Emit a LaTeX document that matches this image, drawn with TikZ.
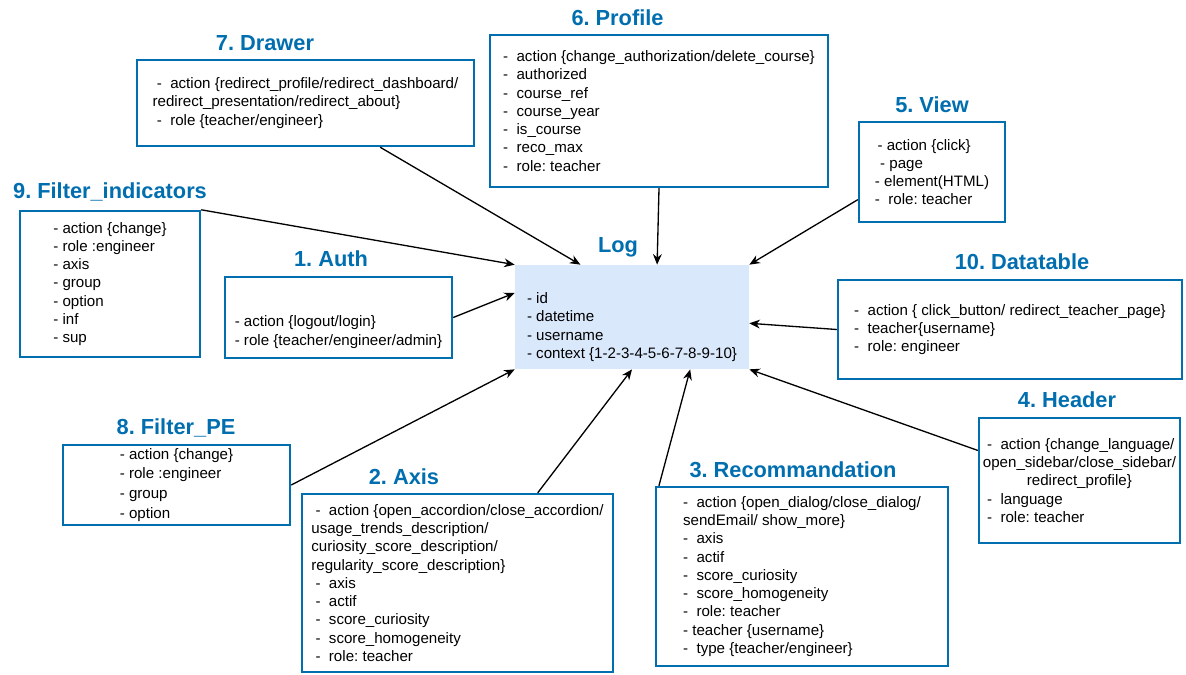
\documentclass[tikz,border=0pt]{standalone}
\usepackage{fontspec}
\setmainfont{Liberation Sans}
\usepackage{tikz}
\usetikzlibrary{arrows.meta,positioning,calc}
\frenchspacing
\definecolor{lgBlue}{HTML}{006EAF}
\definecolor{lgFill}{HTML}{DAE8FC}
\definecolor{lgInk}{HTML}{000000}
\tikzset{
  % Context box (white, blue border)
  ctxbox/.style={rectangle,draw=lgBlue,line width=1.4pt,fill=white,
    align=left,inner sep=2pt,
    font=\fontsize{8.6}{10.4}\selectfont,text=lgInk},
  % Log table (light blue, no border)
  logbox/.style={rectangle,fill=lgFill,align=left,inner sep=2pt,
    font=\fontsize{8.6}{10.4}\selectfont,text=lgInk},
  % Titles above the boxes
  ttl/.style={font=\fontsize{12.4}{14}\selectfont\bfseries,
    text=lgBlue,inner sep=0pt},
  % Arrows
  arr/.style={-{Stealth[length=6pt,width=5pt]},line width=0.75pt,color=lgInk},
}

\begin{document}
\begin{tikzpicture}[x=0.02cm,y=-0.02cm]
  \useasboundingbox (0,0) rectangle (1186,674);

  % central table
  \node[logbox,minimum width=4.68cm,minimum height=2.08cm] (log) at (632,317)
    {\strut\\- id\\- datetime\\- username\\- context \{1-2-3-4-5-6-7-8-9-10\}};
  \node[ttl] (logT) at (618,247) {Log};

  % contexts
  \node[ctxbox,minimum width=6.74cm,minimum height=1.72cm] (drawer) at (305.5,103)
    {~-~~action \{redirect\_profile/redirect\_dashboard/\\
     redirect\_presentation/redirect\_about\}\\
     ~-~~role \{teacher/engineer\}};
  \node[ttl] (drawerT) at (265,43) {7. Drawer};

  \node[ctxbox,minimum width=6.76cm,minimum height=3.04cm] (profile) at (659,111)
    {-~~action \{change\_authorization/delete\_course\}\\
     -~~authorized\\
     -~~course\_ref\\
     -~~course\_year\\
     -~~is\_course\\
     -~~reco\_max\\
     -~~role: teacher};
  \node[ttl] (profileT) at (617.5,18) {6. Profile};

  \node[ctxbox,minimum width=2.92cm,minimum height=2.0cm] (view) at (932,172)
    {\hspace*{1.5pt}- action \{click\}\\
     \hspace*{3pt}- page\\
     - element(HTML)\\
     -~~role: teacher};
  \node[ttl] (viewT) at (932,105) {5. View};

  \node[ctxbox,minimum width=3.6cm,minimum height=2.92cm] (filterind) at (110,284)
    {- action \{change\}\\
     - role :engineer\\
     - axis\\
     - group\\
     - option\\
     - inf\\
     - sup};
  \node[ttl] (filterindT) at (110,192) {9. Filter\_indicators};

  \node[ctxbox,minimum width=4.54cm,minimum height=1.62cm] (auth) at (338.5,317.5)
    {\strut\\[5pt]
     - action \{logout/login\}\\
     - role \{teacher/engineer/admin\}};
  \node[ttl] (authT) at (331,259) {1. Auth};

  \node[ctxbox,minimum width=6.88cm,minimum height=1.98cm] (datatable) at (1010,329.5)
    {-~~action \{ click\_button/ redirect\_teacher\_page\}\\
     -~~teacher\{username\}\\
     -~~role: engineer};
  \node[ttl] (datatableT) at (1022,262) {10. Datatable};

  \node[ctxbox,minimum width=4.02cm,minimum height=2.5cm] (header) at (1079.5,480.5)
    {~-~~action \{change\_language/\\
     open\_sidebar/close\_sidebar/\\
     \hspace*{25pt}redirect\_profile\}\\
     ~-~~language\\
     ~-~~role: teacher};
  \node[ttl] (headerT) at (1067,400) {4. Header};

  \node[ctxbox,minimum width=4.54cm,minimum height=1.6cm] (filterpe) at (176.5,485)
    {- action \{change\}\\
     - role :engineer\\[1pt]
     - group\\[1pt]
     - option};
  \node[ttl] (filterpeT) at (176,428) {8. Filter\_PE};

  \node[ctxbox,minimum width=6.22cm,minimum height=3.56cm] (axis) at (457.5,583)
    {~-~~action \{open\_accordion/close\_accordion/\\
     usage\_trends\_description/\\
     curiosity\_score\_description/\\
     regularity\_score\_description\}\\
     ~-~~axis\\
     ~-~~actif\\
     ~-~~score\_curiosity\\
     ~-~~score\_homogeneity\\
     ~-~~role: teacher};
  \node[ttl] (axisT) at (404,477) {2. Axis};

  \node[ctxbox,minimum width=5.84cm,minimum height=3.58cm] (reco) at (802,576.5)
    {-~~action \{open\_dialog/close\_dialog/\\
     sendEmail/ show\_more\}\\
     -~~axis\\
     -~~actif\\
     -~~score\_curiosity\\
     -~~score\_homogeneity\\
     -~~role: teacher\\
     - teacher \{username\}\\
     -~~type \{teacher/engineer\}};
  \node[ttl] (recoT) at (793,470) {3. Recommandation};

  % links to the log
  \draw[arr] ($(drawer.south west)!0.72!(drawer.south east)$)
    -- ($(log.north west)!0.28!(log.north east)$);
  \draw[arr] (profile.south) -- ($(log.north west)!0.607!(log.north east)$);
  \draw[arr] ($(view.north west)!0.77!(view.south west)$) -- (log.north east);
  \draw[arr] (filterind.north east) -- (log.north west);
  \draw[arr] (auth.east) -- ($(log.north west)!0.27!(log.south west)$);
  \draw[arr] (datatable.west) -- ($(log.north east)!0.56!(log.south east)$);
  \draw[arr] ($(header.north west)!0.264!(header.south west)$) -- (log.south east);
  \draw[arr] (filterpe.east) -- (log.south west);
  \draw[arr] ($(axis.north west)!0.756!(axis.north east)$) -- (log.south);
  \draw[arr] ($(reco.north west)!0.014!(reco.north east)$)
    -- ($(log.south west)!0.748!(log.south east)$);
\end{tikzpicture}
\end{document}
